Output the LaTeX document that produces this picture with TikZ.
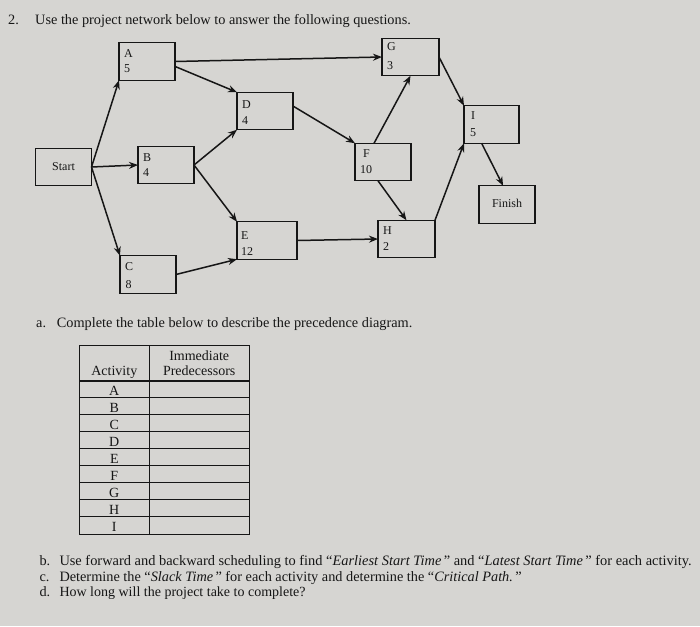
\documentclass[tikz,border=0pt]{standalone}
\usepackage{fontspec}
\setmainfont{Liberation Serif}
\usetikzlibrary{arrows.meta,calc}
\definecolor{paper}{RGB}{214,213,210}
\definecolor{ink}{RGB}{22,22,22}
\begin{document}
\begin{tikzpicture}[x=1pt,y=-1pt,
  box/.style={draw=ink,line width=1.3pt,minimum width=56pt,minimum height=37.5pt,inner sep=0pt,outer sep=0pt},
  lab/.style={anchor=base west,inner sep=0pt,font=\fontsize{12}{14}\selectfont,text=ink},
  ctr/.style={anchor=base,inner sep=0pt,font=\fontsize{12}{14}\selectfont,text=ink},
  txt/.style={anchor=base west,inner sep=0pt,font=\fontsize{14.3}{16}\selectfont,text=ink},
  cell/.style={anchor=base,inner sep=0pt,font=\fontsize{14}{16}\selectfont,text=ink},
  arr/.style={draw=ink,line width=1.5pt,-{Stealth[length=9pt,width=7pt]}},
  rule/.style={draw=ink,line width=0.9pt}]
\fill[paper] (0,0) rectangle (700,626);
\useasboundingbox (0,0) rectangle (700,626);

% question text
\node[txt] (q2n) at (8,25) {2.};
\node[txt] (q2) at (35,25) {Use the project network below to answer the following questions.};

% boxes
\node[box] (Start) at (63.5,167) {};
\node[box] (A) at (147,61.5) {};
\node[box] (B) at (166,165) {};
\node[box] (C) at (148,274.5) {};
\node[box] (D) at (265,111) {};
\node[box,minimum width=60pt] (E) at (267,240.5) {};
\node[box] (F) at (383,162) {};
\node[box,minimum width=57pt] (G) at (410.5,57) {};
\node[box,minimum width=57pt] (H) at (406.5,239) {};
\node[box,minimum width=55pt] (I) at (491.5,124.5) {};
\node[box] (Finish) at (507,204.5) {};

% labels
\node[ctr] (tStart) at (63.5,170.7) {Start};
\node[ctr] (tFinish) at (507,207.5) {Finish};
\node[lab] (a1) at (124,57) {A};   \node[lab] (a2) at (124,72) {5};
\node[lab] (b1) at (143,161) {B};  \node[lab] (b2) at (143,176.5) {4};
\node[lab] (c1) at (125,270) {C};  \node[lab] (c2) at (125.5,288) {8};
\node[lab] (d1) at (242,108) {D};  \node[lab] (d2) at (242,124) {4};
\node[lab] (e1) at (241,239) {E};  \node[lab] (e2) at (241,255) {12};
\node[lab] (f1) at (363,157) {F};  \node[lab] (f2) at (360,173) {10};
\node[lab] (g1) at (387,51) {G};   \node[lab] (g2) at (387,69) {3};
\node[lab] (h1) at (383,234.5) {H};\node[lab] (h2) at (383,250.5) {2};
\node[lab] (i1) at (471,119) {I};  \node[lab] (i2) at (470,136) {5};

% connector end points
\coordinate (Fn) at ($(F.north west)!0.34!(F.north east)$);
\coordinate (Fs) at ($(F.south west)!0.41!(F.south east)$);
\coordinate (Is) at ($(I.south west)!0.32!(I.south east)$);
\coordinate (Fin) at ($(Finish.north west)!0.43!(Finish.north east)$);

% connectors
\draw[arr] (Start.east) -- (A.south west);
\draw[arr] (Start.east) -- (B.west);
\draw[arr] (Start.east) -- (C.north west);
\draw[arr] (A.east) -- (G.west);
\draw[arr] (A.-10) -- (D.north west);
\draw[arr] (B.east) -- (D.south west);
\draw[arr] (B.east) -- (E.north west);
\draw[arr] (C.east) -- (E.south west);
\draw[arr] (D.10) -- (F.north west);
\draw[arr] (E.east) -- (H.west);
\draw[arr] (Fn) -- (G.south);
\draw[arr] (Fs) -- (H.north);
\draw[arr] (G.east) -- (I.north west);
\draw[arr] (H.north east) -- (I.south west);
\draw[arr] (Is) -- (Fin);

% part a
\node[txt] (qan) at (36,327.7) {a.};
\node[txt] (qa) at (56.7,327.7) {Complete the table below to describe the precedence diagram.};

% table
\draw[rule] (79.3,345.7) rectangle (249,534);
\draw[rule] (149.3,345.7) -- (149.3,534);
\draw[draw=ink,line width=1.8pt] (79.3,380.7) -- (249,380.7);
\foreach \k in {1,...,8} {
  \draw[rule] (79.3,{380.7+17.03*\k}) -- (249,{380.7+17.03*\k});
}
\node[cell] (hAct) at (114.3,375.7) {Activity};
\node[cell] (hImm) at (199.2,360) {Immediate};
\node[cell] (hPre) at (199.2,375.7) {Predecessors};
\foreach \l [count=\k from 0] in {A,B,C,D,E,F,G,H,I} {
  \node[cell] (r\l) at (114.3,{380.7+17.03*\k+14.3}) {\l};
}

% parts b-d
\node[txt] (qbn) at (39.3,565) {b.};
\node[txt,font=\fontsize{14.4}{16}\selectfont] (qb) at (59.3,565) {Use forward and backward scheduling to find “\textit{Earliest Start Time}\,” and “\textit{Latest Start Time}\,” for each activity.};
\node[txt] (qcn) at (39.3,581) {c.};
\node[txt] (qc) at (59.3,581) {Determine the “\textit{Slack Time}\,” for each activity and determine the “\textit{Critical Path.}\,”};
\node[txt] (qdn) at (39.3,596.5) {d.};
\node[txt,font=\fontsize{14}{16}\selectfont] (qd) at (59.3,596.5) {How long will the project take to complete?};
\end{tikzpicture}
\end{document}
